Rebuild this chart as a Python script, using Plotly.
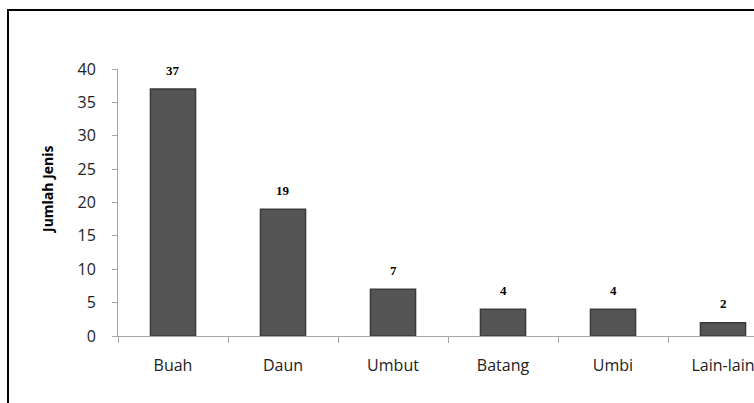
import plotly.graph_objects as go

categories = ["Buah", "Daun", "Umbut", "Batang", "Umbi", "Lain-lain"]
values = [37, 19, 7, 4, 4, 2]
y_ticks = [0, 5, 10, 15, 20, 25, 30, 35, 40]
y_title = "Jumlah Jenis"

W, H = 754, 403
L, R, T, B = 118, 0, 69, 67
pw, ph = W - L - R, H - T - B

fig = go.Figure()
fig.add_trace(go.Bar(
    x=categories, y=values, width=0.41,
    marker=dict(color="#555555", line=dict(color="#3a3a3a", width=1.5)),
    hoverinfo="x+y",
))

for c, v in zip(categories, values):
    fig.add_annotation(x=c, y=v, text="<b>%d</b>" % v, showarrow=False, yshift=19,
                       font=dict(family="Liberation Serif", size=13, color="#000000"))

fig.add_annotation(xref="paper", yref="paper", x=(47 - L) / pw, y=(T + ph - 190) / ph,
                   xanchor="center", yanchor="middle",
                   text="<b>%s</b>" % y_title, textangle=-90, showarrow=False,
                   font=dict(family="Open Sans", size=14, color="#000000"))

fig.update_layout(
    width=W, height=H,
    margin=dict(l=L, r=R, t=T, b=B, pad=0),
    paper_bgcolor="white", plot_bgcolor="white",
    showlegend=False,
    font=dict(family="Open Sans", size=16, color="#222222"),
)

# x range chosen so the plot area runs off the right edge like the reference
cat_px = 110
xmax = -0.5 + pw / cat_px
fig.update_xaxes(
    range=[-0.5, xmax], showline=True, linecolor="#a6a6a6", linewidth=1,
    ticks="outside", ticklen=6, tickcolor="#a6a6a6", tickson="boundaries",
    showgrid=False, zeroline=False, ticklabelstandoff=15,
    tickfont=dict(family="Open Sans", size=16, color="#222222"),
)
fig.update_yaxes(
    range=[0, 40], tickvals=y_ticks, showline=True, linecolor="#a6a6a6",
    linewidth=1, ticks="outside", ticklen=5, tickcolor="#a6a6a6",
    showgrid=False, zeroline=False, ticklabelstandoff=13,
    tickfont=dict(family="Open Sans", size=16, color="#222222"),
)

# chart border (top-left corner visible, rest cropped)
fig.add_shape(type="rect", xref="paper", yref="paper",
              x0=(8 - L) / pw, x1=(W + 20 - L) / pw,
              y0=-(H + 20 - (T + ph)) / ph, y1=(T + ph - 10) / ph,
              line=dict(color="#000000", width=2), layer="above")

fig.write_html("out.html", config={"displayModeBar": False},
               post_script="document.body.style.margin='0';")
